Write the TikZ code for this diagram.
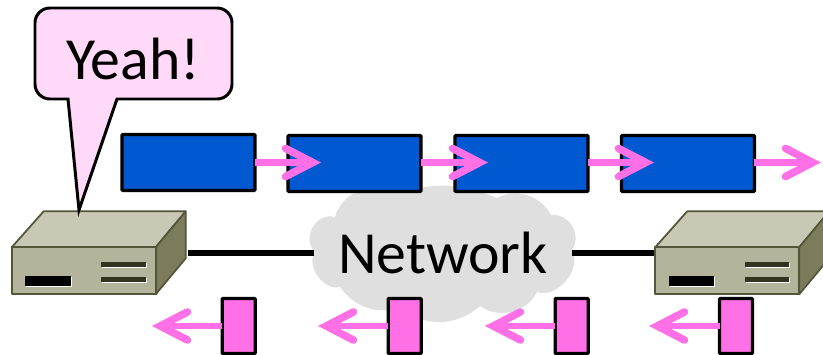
\documentclass[tikz,border=0pt]{standalone}
\usepackage{fontspec}
\setmainfont{Carlito}
\usetikzlibrary{arrows.meta}
\definecolor{pktblue}{HTML}{0059D1}
\definecolor{ackpink}{HTML}{FF6FE6}
\definecolor{bubblepink}{HTML}{FFD9F7}
\definecolor{cloudgray}{HTML}{DFDFDF}
\definecolor{boxtop}{HTML}{C8C8B4}
\definecolor{boxfront}{HTML}{B4B49C}
\definecolor{boxside}{HTML}{7C7C5C}
\definecolor{boxedge}{HTML}{55553C}
\definecolor{boxslot}{HTML}{33331F}
\tikzset{
	bigtext/.style={font=\fontsize{34}{40}\selectfont,inner sep=0pt,outer sep=0pt},
	datapkt/.style={draw=black,line width=1.9pt,fill=pktblue,rounded corners=0.5pt,minimum width=2.66cm,minimum height=1.12cm,inner sep=0pt,outer sep=0pt},
	ackpkt/.style={draw=black,line width=1.9pt,fill=ackpink,rounded corners=0.5pt,minimum width=0.66cm,minimum height=1.1cm,inner sep=0pt,outer sep=0pt},
	flow/.style={draw=ackpink,line width=3.5pt,-{Straight Barb[length=15.5pt,width=16pt,line width=4.3pt,line cap=round,line join=miter]}},
	wire/.style={draw=black,line width=3.4pt},
	boxface/.style={draw=boxedge,line width=1pt,line join=round},
	router/.pic={
		\coordinate (-right) at (176.5,5.4);
		\coordinate (-left) at (-1.7,5.4);
		\draw[boxface,fill=boxtop] (0,0) -- (32,-36) -- (174,-36) -- (144,0) -- cycle;
		\draw[boxface,fill=boxside] (144,0) -- (174,-36) -- (174,11) -- (144,47) -- cycle;
		\draw[boxface,fill=boxfront] (0,0) rectangle (144,47);
		\fill[white] (14.5,30) rectangle (60,39.5);
		\fill[black] (13.5,29) rectangle (59,38.5);
		\fill[white] (90.5,16) rectangle (135,21);
		\fill[boxslot] (89.5,15) rectangle (134,20);
		\fill[white] (90.5,30.5) rectangle (135,35.5);
		\fill[boxslot] (89.5,29.5) rectangle (134,34.5);
	}
}
\begin{document}
\begin{tikzpicture}[x=0.02cm,y=-0.02cm]
	\clip (0,0) rectangle (823,355);
	% cloud
	\fill[cloudgray] (315,252) to[bend left=75,looseness=1.25] (335,217) to[bend left=55] (400,193)
		to[bend left=20] (497,198) to[bend left=45] (551,215) to[bend left=65,looseness=1.15] (572,250)
		to[bend left=70] (537,292) to[bend left=50] (480,306) to[bend left=40] (400,308)
		to[bend left=35] (340,287) to[bend left=70] (315,252) -- cycle;
	\node[bigtext,minimum width=5.16cm] (net) at (443,252.7) {\raisebox{-0.18cm}{Network}};

	% routers
	\pic (sender) at (11.7,247.3) {router};
	\pic (receiver) at (655.2,247.3) {router};
	\draw[wire] (sender-right) -- (sender-right -| net.west);
	\draw[wire] (net.east |- receiver-left) -- (receiver-left);

	% speech bubble
	\draw[draw=black,fill=bubblepink,line width=1.7pt,line join=miter] (130,8) [rounded corners=8.5pt] -- (35,8) -- (35,99) [sharp corners] -- (68,99) -- (79,210) -- (117,99) [rounded corners=8.5pt] -- (232,99) -- (232,8) -- cycle;
	\node[bigtext] (yeah) at (133,58.5) {Yeah!};

	% data packets
	\node[datapkt] (pkta) at (188.5,162.5) {};
	\node[datapkt] (pktb) at (354.5,163.5) {};
	\node[datapkt] (pktc) at (521.5,163.5) {};
	\node[datapkt] (pktd) at (688,163.5) {};
	\coordinate (tipa) at (321,162.5);
	\coordinate (tipb) at (488,162.5);
	\coordinate (tipc) at (654,162.5);
	\coordinate (tipd) at (821,162.5);
	\draw[flow] (pkta.east |- tipa) -- (tipa);
	\draw[flow] (pktb.east |- tipb) -- (tipb);
	\draw[flow] (pktc.east |- tipc) -- (tipc);
	\draw[flow] (pktd.east |- tipd) -- (tipd);

	% acks
	\node[ackpkt] (acka) at (238.7,326) {};
	\node[ackpkt] (ackb) at (404.7,326) {};
	\node[ackpkt] (ackc) at (571.7,326) {};
	\node[ackpkt] (ackd) at (736,326) {};
	\coordinate (enda) at (152,326);
	\coordinate (endb) at (318,326);
	\coordinate (endc) at (485,326);
	\coordinate (endd) at (649,326);
	\draw[flow] (acka.west) -- (enda);
	\draw[flow] (ackb.west) -- (endb);
	\draw[flow] (ackc.west) -- (endc);
	\draw[flow] (ackd.west) -- (endd);
\end{tikzpicture}
\end{document}
